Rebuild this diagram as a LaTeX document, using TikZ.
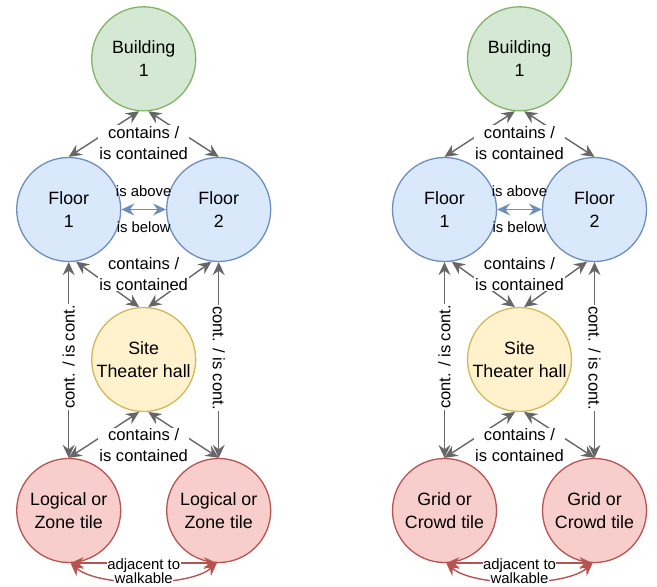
\documentclass[tikz,border=0pt]{standalone}
\usepackage{fontspec}
\setmainfont{Liberation Sans}
\usetikzlibrary{arrows.meta}
\definecolor{grnfill}{HTML}{D5E8D4}
\definecolor{grndraw}{HTML}{82B366}
\definecolor{blufill}{HTML}{DAE8FC}
\definecolor{bludraw}{HTML}{6C8EBF}
\definecolor{yelfill}{HTML}{FFF2CC}
\definecolor{yeldraw}{HTML}{D6B656}
\definecolor{redfill}{HTML}{F8CECC}
\definecolor{reddraw}{HTML}{B85450}
\definecolor{edgegray}{HTML}{666666}
\tikzset{
  >={Stealth[length=13pt,width=12pt,inset=4.5pt]},
  ent/.style={circle,minimum size=104pt,inner sep=0pt,line width=1.3pt,align=center,
    font=\fontsize{17.8}{22.7}\selectfont},
  bld/.style={ent,draw=grndraw,fill=grnfill},
  flr/.style={ent,draw=bludraw,fill=blufill},
  sit/.style={ent,draw=yeldraw,fill=yelfill},
  til/.style={ent,draw=reddraw,fill=redfill},
  rel/.style={draw=edgegray,line width=1.4pt,<->},
  brel/.style={draw=bludraw,line width=1.4pt,<->},
  rrel/.style={draw=reddraw,line width=1.4pt,<->},
  lbl/.style={fill=white,inner sep=1pt,align=center,font=\fontsize{16.6}{21}\selectfont},
  slbl/.style={inner sep=0.5pt,align=center,font=\fontsize{14.9}{15}\selectfont},
}
\newcommand\mypanel[1]{%
  \node[bld] (B) at (143.7,58.8) {Building\\1};
  \node[flr] (F1) at (68.7,209.5) {Floor\\1};
  \node[flr] (F2) at (218.7,209.5) {Floor\\2};
  \node[sit] (S) at (143.7,359.5) {Site\\Theater hall};
  \node[til] (T1) at (68.7,510.5) {#1};
  \node[til] (T2) at (218.7,510.5) {#1};
  % building - floors
  \draw[rel] (B.-95) -- (F1.north);
  \draw[rel] (B.-85) -- (F2.north);
  % floor - floor
  \draw[brel] (F1.east) -- (F2.west);
  % floors - site
  \draw[rel] (F1.-82) -- (S.95);
  \draw[rel] (F2.-98) -- (S.85);
  % floors - tiles
  \draw[rel] (F1.south) -- (T1.north);
  \draw[rel] (F2.south) -- (T2.north);
  % site - tiles
  \draw[rel] (S.-95) -- (T1.north);
  \draw[rel] (S.-85) -- (T2.north);
  % tiles adjacency
  \draw[rrel] (T1.-88) -- (T2.-92);
  \draw[rrel] (T1.-88) .. controls +(28,24) and +(-28,24) .. (T2.-92);
  % labels
  \node[lbl] (l1) at (143.7,142.8) {contains /\\is contained};
  \node[lbl] (l2) at (143.7,273.6) {contains /\\is contained};
  \node[lbl] (l3) at (143.7,445.3) {contains /\\is contained};
  \node[slbl] (ab) at (143.7,191.5) {is above};
  \node[slbl] (be) at (143.7,227.5) {is below};
  \node[lbl,rotate=90] (v1) at (68.7,357) {cont. / is cont.};
  \node[lbl,rotate=-90] (v2) at (218.7,358) {cont. / is cont.};
  \node[slbl,fill=white] (ad) at (143.7,565.4) {adjacent to};
  \node[slbl,fill=white] (wk) at (143.7,578.6) {walkable};
}
\begin{document}
\begin{tikzpicture}[x=1pt,y=-1pt]
  \useasboundingbox (0,0) rectangle (657,587);
  \begin{scope}[name prefix=L-]
    \mypanel{Logical or\\Zone tile}
  \end{scope}
  \begin{scope}[name prefix=R-,xshift=375.8pt]
    \mypanel{Grid or\\Crowd tile}
  \end{scope}
\end{tikzpicture}
\end{document}
